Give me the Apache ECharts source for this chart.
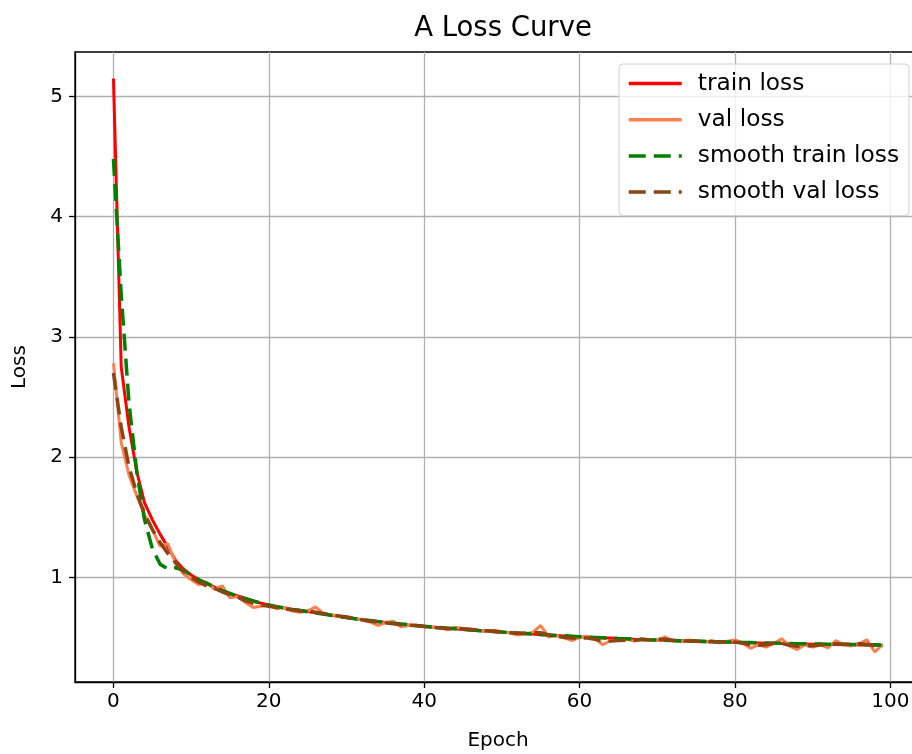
<!DOCTYPE html>
<html>
<head>
<meta charset="utf-8">
<script src="https://cdn.jsdelivr.net/npm/echarts@6/dist/echarts.min.js"></script>
<style>
  html, body { margin: 0; padding: 0; background: #fff; }
  #chart { width: 912px; height: 754px; }
</style>
</head>
<body>
<div id="chart"></div>
<script>
// epochs 0..99
const epochs = [];
for (let i = 0; i < 100; i++) epochs.push(i);

const trainLoss = [
  5.15, 2.75, 2.25, 1.88, 1.62, 1.48, 1.36, 1.25, 1.14, 1.07,
  1.02, 0.98, 0.95, 0.92, 0.89, 0.865, 0.845, 0.825, 0.805, 0.785,
  0.77, 0.757, 0.746, 0.735, 0.726, 0.716, 0.705, 0.696, 0.686, 0.676,
  0.665, 0.657, 0.648, 0.64, 0.633, 0.625, 0.619, 0.612, 0.605, 0.599,
  0.592, 0.588, 0.582, 0.577, 0.573, 0.567, 0.563, 0.557, 0.554, 0.548,
  0.544, 0.541, 0.536, 0.532, 0.529, 0.524, 0.52, 0.517, 0.513, 0.51,
  0.506, 0.503, 0.5, 0.497, 0.495, 0.491, 0.489, 0.486, 0.484, 0.482,
  0.479, 0.477, 0.475, 0.473, 0.471, 0.469, 0.467, 0.465, 0.463, 0.462,
  0.46, 0.458, 0.456, 0.455, 0.453, 0.452, 0.45, 0.449, 0.447, 0.446,
  0.445, 0.444, 0.442, 0.441, 0.44, 0.439, 0.438, 0.437, 0.436, 0.435
];

const valLoss = [
  2.78, 2.12, 1.85, 1.68, 1.52, 1.4, 1.26, 1.28, 1.12, 1.03,
  0.98, 0.94, 0.96, 0.9, 0.93, 0.83, 0.84, 0.79, 0.75, 0.76,
  0.77, 0.74, 0.75, 0.72, 0.71, 0.72, 0.755, 0.7, 0.69, 0.68,
  0.67, 0.66, 0.645, 0.63, 0.6, 0.625, 0.635, 0.59, 0.6, 0.605,
  0.59, 0.585, 0.58, 0.565, 0.585, 0.575, 0.57, 0.56, 0.55, 0.56,
  0.545, 0.54, 0.52, 0.53, 0.545, 0.6, 0.505, 0.515, 0.5, 0.475,
  0.5, 0.51, 0.49, 0.44, 0.475, 0.48, 0.485, 0.47, 0.49, 0.48,
  0.475, 0.505, 0.47, 0.465, 0.48, 0.47, 0.46, 0.475, 0.455, 0.47,
  0.48, 0.455, 0.41, 0.44, 0.42, 0.45, 0.49, 0.43, 0.4, 0.44,
  0.42, 0.44, 0.415, 0.475, 0.44, 0.43, 0.45, 0.48, 0.38, 0.44
];

const smoothTrainLoss = [
  4.48, 3.35, 2.45, 1.88, 1.48, 1.24, 1.11, 1.07, 1.08, 1.06,
  1.02, 0.98, 0.95, 0.92, 0.89, 0.866, 0.844, 0.824, 0.804, 0.786,
  0.771, 0.757, 0.745, 0.734, 0.724, 0.714, 0.704, 0.695, 0.685, 0.675,
  0.666, 0.657, 0.649, 0.641, 0.633, 0.626, 0.619, 0.612, 0.606, 0.599,
  0.593, 0.588, 0.583, 0.578, 0.573, 0.568, 0.563, 0.558, 0.554, 0.549,
  0.545, 0.541, 0.537, 0.533, 0.529, 0.525, 0.521, 0.517, 0.514, 0.51,
  0.507, 0.504, 0.501, 0.498, 0.495, 0.492, 0.49, 0.487, 0.485, 0.482,
  0.48, 0.478, 0.476, 0.474, 0.472, 0.47, 0.468, 0.466, 0.464, 0.463,
  0.461, 0.459, 0.458, 0.456, 0.455, 0.453, 0.452, 0.45, 0.449, 0.448,
  0.447, 0.446, 0.445, 0.444, 0.443, 0.442, 0.441, 0.44, 0.439, 0.438
];

const smoothValLoss = [
  2.7, 2.25, 1.92, 1.7, 1.53, 1.4, 1.29, 1.2, 1.12, 1.05,
  1.0, 0.96, 0.93, 0.91, 0.88, 0.855, 0.835, 0.805, 0.785, 0.77,
  0.76, 0.75, 0.74, 0.73, 0.72, 0.72, 0.71, 0.7, 0.69, 0.68,
  0.67, 0.66, 0.648, 0.636, 0.628, 0.622, 0.615, 0.607, 0.602, 0.598,
  0.592, 0.586, 0.58, 0.575, 0.574, 0.572, 0.566, 0.56, 0.556, 0.552,
  0.547, 0.54, 0.535, 0.535, 0.54, 0.54, 0.522, 0.512, 0.5, 0.495,
  0.498, 0.496, 0.485, 0.472, 0.47, 0.476, 0.478, 0.478, 0.482, 0.482,
  0.485, 0.486, 0.478, 0.472, 0.472, 0.468, 0.465, 0.465, 0.462, 0.465,
  0.462, 0.452, 0.438, 0.435, 0.44, 0.452, 0.452, 0.435, 0.428, 0.43,
  0.432, 0.438, 0.44, 0.448, 0.445, 0.445, 0.448, 0.445, 0.43, 0.43
];

const xTicks = [0, 20, 40, 60, 80, 100];
const yTicks = [1, 2, 3, 4, 5];

function pairs(ys) {
  return ys.map(function (v, i) { return [epochs[i], v]; });
}

const chart = echarts.init(document.getElementById('chart'));
const font = 'DejaVu Sans';

const option = {
  backgroundColor: '#fff',
  animation: false,
  title: {
    text: 'A Loss Curve',
    left: 498,
    textAlign: 'center',
    top: 10,
    textStyle: { fontFamily: font, fontSize: 27.5, fontWeight: 'normal', color: '#000' }
  },
  grid: {
    left: 75, top: 52, width: 846, height: 630,
    outerBoundsMode: 'none', containLabel: false,
    show: true, borderColor: '#000', borderWidth: 1.3, backgroundColor: 'transparent'
  },
  legend: {
    orient: 'vertical',
    left: 619, top: 64,
    padding: [8, 10, 12, 8],
    itemWidth: 53, itemHeight: 20, itemGap: 13.2,
    backgroundColor: 'rgba(255,255,255,0.8)',
    borderColor: '#d0d0d0', borderWidth: 1, borderRadius: 4,
    itemStyle: { opacity: 0 },
    lineStyle: { width: 3.5 },
    textStyle: { fontFamily: font, fontSize: 23.3, color: '#000', padding: [0, 0, 0, 11] },
    data: ['train loss', 'val loss', 'smooth train loss', 'smooth val loss']
  },
  xAxis: {
    type: 'value', min: -4.95, max: 103.95,
    name: 'Epoch', nameLocation: 'middle', nameGap: 49,
    nameTextStyle: { fontFamily: font, fontSize: 20, color: '#000' },
    axisLine: { show: true, onZero: false, lineStyle: { color: '#000', width: 1.3 } },
    axisTick: { show: true, length: 6, inside: false, customValues: xTicks, lineStyle: { color: '#000', width: 1.3 } },
    axisLabel: { customValues: xTicks, fontFamily: font, fontSize: 20, color: '#000', margin: 10 },
    splitLine: { show: true, lineStyle: { color: '#b0b0b0', width: 1.3 } }
  },
  yAxis: {
    type: 'value', min: 0.13, max: 5.37,
    name: 'Loss', nameLocation: 'middle', nameGap: 45,
    nameTextStyle: { fontFamily: font, fontSize: 20, color: '#000' },
    axisLine: { show: true, onZero: false, lineStyle: { color: '#000', width: 1.3 } },
    axisTick: { show: true, length: 6, inside: false, customValues: yTicks, lineStyle: { color: '#000', width: 1.3 } },
    axisLabel: { customValues: yTicks, fontFamily: font, fontSize: 20, color: '#000', margin: 12 },
    splitLine: { show: true, lineStyle: { color: '#b0b0b0', width: 1.3 } }
  },
  series: [
    {
      name: 'train loss', type: 'line', data: pairs(trainLoss),
      showSymbol: false, symbol: 'none', color: '#ff0000',
      lineStyle: { color: '#ff0000', width: 3 }
    },
    {
      name: 'val loss', type: 'line', data: pairs(valLoss),
      showSymbol: false, symbol: 'none', color: '#ff7f50',
      lineStyle: { color: '#ff7f50', width: 3 }
    },
    {
      name: 'smooth train loss', type: 'line', data: pairs(smoothTrainLoss),
      showSymbol: false, symbol: 'none', color: '#008000',
      lineStyle: { color: '#008000', width: 3.5, type: [17, 8] }
    },
    {
      name: 'smooth val loss', type: 'line', data: pairs(smoothValLoss),
      showSymbol: false, symbol: 'none', color: '#8b4513',
      lineStyle: { color: '#8b4513', width: 3.5, type: [17, 8] }
    }
  ]
};

chart.setOption(option);
</script>
</body>
</html>
